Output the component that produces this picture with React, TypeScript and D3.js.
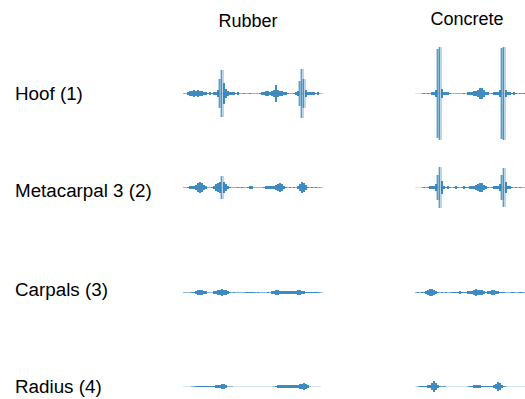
import React from "react";
import * as d3 from "d3";

const surfaces = ["Rubber", "Concrete"];
const bones = ["Hoof (1)", "Metacarpal 3 (2)", "Carpals (3)", "Radius (4)"];

// envelope amplitudes (half-height, px-like units), evenly sampled along each trace
const hoofRubber = [0.5,0.5,1,2.5,2.5,3,2.5,3,2.5,2,1.5,1,0.8,1,0.8,1,1.5,3,14,23,10,4,2,1.5,1,1,0.8,1,0.5,0.3,0.8,0.3,0.3,0.8,0.3,0.3,0.3,0.5,0.8,1,1.5,2,2,1.5,2.5,3,8,3,2.5,2,1.5,1,0.8,0.5,0.5,0.8,1,2,12,24,14,3,1.5,1,1.5,1,0.8,1,0.5,0.3];
const hoofConcrete = [0,0,0,0.3,0.8,0.3,0.8,0.5,1,1,3,44,46,4,1,1,1,0.8,0.5,0.2,0.2,0.2,0.2,0.3,0.8,0.5,1,1.5,1.5,2,2,3,5,5,3,1.5,1,0.5,0.8,1,1,1.5,3,45,46,3,1,1,0.8,1,0.8,0.5,0.8,0.3,0.8,0.3];
const metaRubber = [0.3,0.5,0.8,1,1,1.5,2.5,4,5,4,2,1,0.5,0.5,0.8,1.5,3,4,5,11,5,3,1.5,0.8,0.5,0.3,0.3,0.8,0.5,0.8,0.3,0.3,0.8,1,1,0.5,0.3,0.3,0.3,0.5,0.8,1,1,1,1.5,1.5,2,3,4,3,1.5,0.8,0.5,0.8,0.3,0.8,0.5,1,3,5,4.5,2,0.8,0.5,0.8,0.5,0.8,0.5,0.3,0.2];
const metaConcrete = [0,0,0,0.3,0.8,0.5,0.8,1,1,1.5,3,12,20,6,1.5,0.8,1,0.8,0.5,0.8,1,0.8,0.5,0.8,1,0.8,0.8,1,1,1.5,2,3,4,4,2,1,0.8,0.5,0.8,1,1,1.5,3,12,19,5,1.5,1,0.8,0.5,0.8,0.5,0.8,0.5,0.3,0.3];
const carpRubber = [0.3,0.3,0.5,0.3,0.8,0.8,1.5,2,2,2,1.5,1,0.5,0.3,0.5,1,1.5,2,2.5,3,2.5,2,1,0.8,0.5,0.8,0.5,0.3,0.3,0.5,0.3,0.8,0.8,0.8,0.8,0.8,0.5,0.8,0.5,0.3,0.3,0.5,0.8,0.5,1,1.5,2,2,1.5,1.5,1.5,1.5,1,1,1,1.5,1.5,2,2,1.5,1,0.8,0.8,0.8,0.8,0.8,0.8,0.8,0.5,0.3];
const carpConcrete = [0.3,0.8,0.3,0.8,0.8,1.5,2.5,3.5,3,2.5,1.5,0.8,0.5,0.8,0.5,0.8,0.3,0.5,0.8,0.8,0.8,0.8,1,0.8,0.8,0.8,1,1,1.5,2.5,3,2.5,2.5,2,1,0.8,1,1.5,2.5,2,1.5,1,0.8,0.8,0.8,0.5,0.3,0.3,0.8,0.8,0.5,0.3,0.8,0.8,0.5,0.3];
const radRubber = [0,0,0,0,0.1,0.5,0.8,0.8,0.8,0.8,0.8,0.8,0.8,0.8,0.8,0.8,1,1,1.5,2,2.5,1.5,0.5,0.3,0.5,0,0,0,0,0,0,0,0,0,0,0,0,0,0,0,0,0,0,0,0,0.5,0.8,1,1,1.5,1,1.5,1,1.5,1,1.5,1.5,1.5,2,2,3,2,1,0.5,0,0,0,0,0,0];
const radConcrete = [0,0.5,0.8,0.8,0.8,0.8,1,1.5,3,5,3,1.5,0.8,0.3,0.8,0.3,0,0,0,0,0,0,0,0,0,0,0.5,0.8,0.8,1,1,1,1,0.8,0.8,0.8,0.8,0.8,0.8,1,2,4,3,1.5,0.8,0.5,0,0,0,0,0,0,0,0,0,0];

const traces = [
  [hoofRubber, hoofConcrete],
  [metaRubber, metaConcrete],
  [carpRubber, carpConcrete],
  [radRubber, radConcrete],
];

const W = 525;
const H = 399;
const colX0 = [183, 415];
const colX1 = [321, 525];
const rowY = [93, 187, 292, 386];
const labelY = [93, 190, 289, 386];
const titleX = [248, 467];
const titleY = [27, 25];
const color = "#1f77b4";

export default function App() {
  const amp = d3.scaleLinear().domain([0, 50]).range([0, 50]);
  return (
    <svg width={W} height={H} style={{ position: "absolute", left: 0, top: 0 }}
      fontFamily="'Liberation Sans', Arial, sans-serif">
      <rect width={W} height={H} fill="#fff" />
      {surfaces.map((s, j) => (
        <text key={s} x={titleX[j]} y={titleY[j]} textAnchor="middle" fontSize={18} fill="#000">{s}</text>
      ))}
      {bones.map((b, i) => (
        <text key={b} x={15} y={labelY[i] + 7} fontSize={18.8} fill="#000">{b}</text>
      ))}
      {traces.map((row, i) =>
        row.map((vals, j) => {
          const x = d3.scaleLinear().domain([0, vals.length - 1]).range([colX0[j], colX1[j]]);
          const cy = rowY[i];
          return (
            <g key={`${i}-${j}`}>
              <line x1={colX0[j]} x2={colX1[j]} y1={cy + 0.5} y2={cy + 0.5} stroke={color} strokeOpacity={0.18} strokeWidth={1} />
              {vals.map((v, k) => {
                if (v <= 0) return null;
                const big = v > 10;
                const a = big ? Math.round(amp(v)) : Math.floor(amp(v));
                const px = Math.round(x(k));
                return (
                  <g key={k}>
                    {big && (
                      <rect x={px - 1} width={4} y={cy - a} height={2 * a + 1}
                        fill={color} fillOpacity={0.3} shapeRendering="crispEdges" />
                    )}
                    <rect x={px} width={big ? 1 : 2} y={cy - a} height={2 * a + 1}
                      fill={color} fillOpacity={v < 0.6 ? 0.4 : big ? 0.6 : 0.85} shapeRendering="crispEdges" />
                  </g>
                );
              })}
            </g>
          );
        })
      )}
    </svg>
  );
}
